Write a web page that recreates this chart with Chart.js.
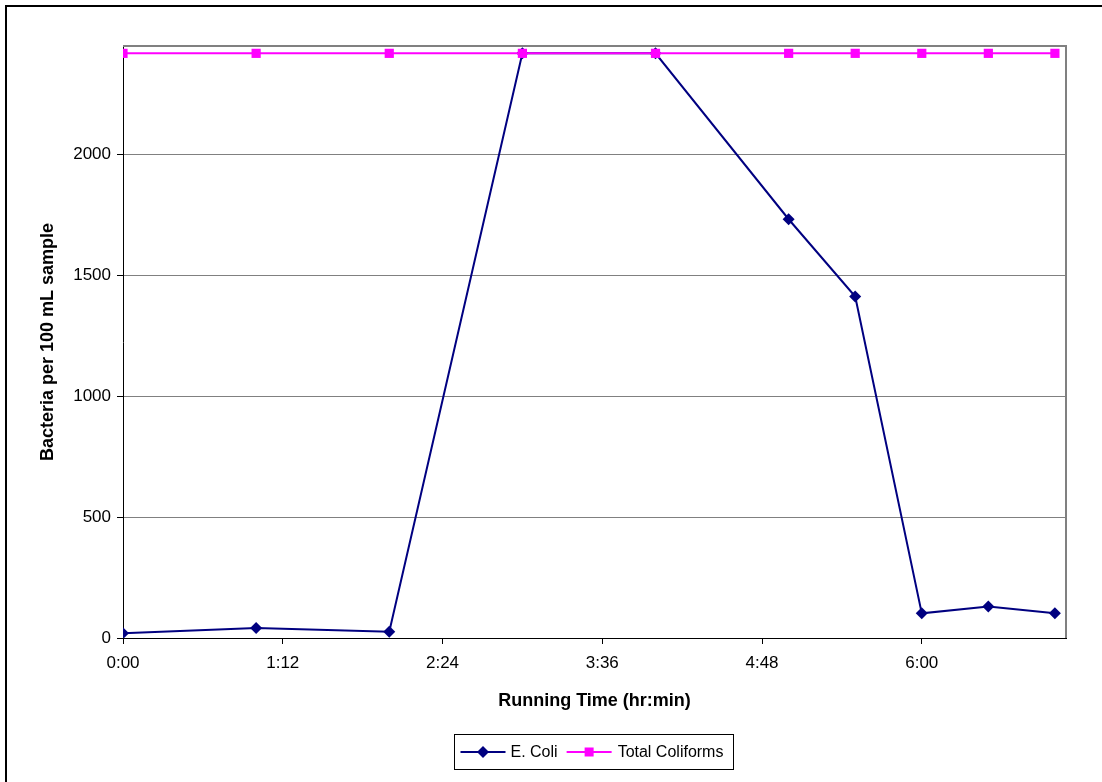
<!DOCTYPE html>
<html>
<head>
<meta charset="utf-8">
<script src="https://cdn.jsdelivr.net/npm/chart.js@4"></script>
<style>
  html, body { margin: 0; padding: 0; background: #fff; overflow: hidden; }
  #wrap { position: relative; width: 1102px; height: 782px; }
</style>
</head>
<body>
<div id="wrap"><canvas id="chart" width="1102" height="782"></canvas></div>
<script>
// Running time of each sample, in minutes from the start
const timeMinutes = [0, 60, 120, 180, 240, 300, 330, 360, 390, 420];
// Bacteria per 100 mL sample
const eColi = [20, 41, 26, 2419.6, 2419.6, 1733, 1413, 102, 130, 102];
const totalColiforms = [2419.6, 2419.6, 2419.6, 2419.6, 2419.6, 2419.6, 2419.6, 2419.6, 2419.6, 2419.6];
const seriesNames = ['E. Coli', 'Total Coliforms'];
// axis ticks (x in minutes, shown as h:mm)
const xTicks = [0, 72, 144, 216, 288, 360];
const yTicks = [0, 500, 1000, 1500, 2000];

const FONT = "'Liberation Sans', Arial, sans-serif";
const NAVY = '#000080';
const MAGENTA = '#FF00FF';

function toPoints(values) {
  return timeMinutes.map((t, i) => ({ x: t, y: values[i] }));
}

function fmtTime(min) {
  const h = Math.floor(min / 60);
  const m = Math.round(min % 60);
  return h + ':' + (m < 10 ? '0' : '') + m;
}

// outer frame (only top and left edges are visible) + grey plot border
const framePlugin = {
  id: 'frame',
  beforeDraw(chart) {
    const ctx = chart.ctx;
    ctx.save();
    ctx.fillStyle = '#fff';
    ctx.fillRect(0, 0, chart.width, chart.height);
    ctx.fillStyle = '#000';
    ctx.fillRect(5, 5, chart.width, 2);
    ctx.fillRect(5, 5, 2, chart.height);
    ctx.restore();
  },
  beforeDatasetsDraw(chart) {
    const { ctx, chartArea: a } = chart;
    ctx.save();
    ctx.strokeStyle = '#808080';
    ctx.lineWidth = 2;
    ctx.beginPath();
    ctx.moveTo(a.left, a.top);
    ctx.lineTo(a.right, a.top);
    ctx.lineTo(a.right, a.bottom);
    ctx.stroke();
    ctx.restore();
  }
};

// Excel style legend: line + marker, boxed, centred under the plot
const legendPlugin = {
  id: 'boxLegend',
  afterDraw(chart) {
    const { ctx, chartArea: a } = chart;
    ctx.save();
    ctx.font = '16px ' + FONT;
    const w1 = ctx.measureText(seriesNames[0]).width;
    const w2 = ctx.measureText(seriesNames[1]).width;
    const seg = 45;
    const boxW = 6 + seg + 5 + w1 + 9 + seg + 6 + w2 + 10;
    const boxH = 35;
    const cx = (a.left + a.right) / 2 - 1.5;
    const left = Math.round(cx - boxW / 2) + 0.5;
    const top = chart.height - 47.5;
    ctx.strokeStyle = '#000';
    ctx.lineWidth = 1;
    ctx.strokeRect(left, top, Math.round(boxW), boxH);
    const cy = top + boxH / 2;

    let x = left + 6;
    ctx.strokeStyle = NAVY;
    ctx.lineWidth = 2;
    ctx.beginPath(); ctx.moveTo(x, cy); ctx.lineTo(x + seg, cy); ctx.stroke();
    ctx.fillStyle = NAVY;
    const mx = x + seg / 2;
    ctx.beginPath();
    ctx.moveTo(mx - 6, cy); ctx.lineTo(mx, cy - 6); ctx.lineTo(mx + 6, cy); ctx.lineTo(mx, cy + 6);
    ctx.closePath(); ctx.fill();
    x += seg + 5;
    ctx.fillStyle = '#000';
    ctx.textBaseline = 'middle';
    ctx.fillText(seriesNames[0], x, cy + 1);
    x += w1 + 9;

    ctx.strokeStyle = MAGENTA;
    ctx.beginPath(); ctx.moveTo(x, cy); ctx.lineTo(x + seg, cy); ctx.stroke();
    ctx.fillStyle = MAGENTA;
    ctx.fillRect(x + seg / 2 - 4.5, cy - 4.5, 9, 9);
    x += seg + 6;
    ctx.fillStyle = '#000';
    ctx.fillText(seriesNames[1], x, cy + 1);
    ctx.restore();
  }
};

new Chart(document.getElementById('chart'), {
  type: 'scatter',
  data: {
    datasets: [
      {
        label: seriesNames[0],
        data: toPoints(eColi),
        showLine: true,
        borderColor: NAVY,
        backgroundColor: NAVY,
        borderWidth: 2,
        pointStyle: 'rectRot',
        pointRadius: 6,
        pointBorderWidth: 0,
        order: 1
      },
      {
        label: seriesNames[1],
        data: toPoints(totalColiforms),
        showLine: true,
        borderColor: MAGENTA,
        backgroundColor: MAGENTA,
        borderWidth: 2,
        pointStyle: 'rect',
        pointRadius: 6.5,
        pointBorderWidth: 0,
        order: 0
      }
    ]
  },
  options: {
    responsive: false,
    animation: false,
    layout: { padding: { left: 33, top: 46, right: 36, bottom: 66 } },
    plugins: {
      legend: { display: false },
      tooltip: { enabled: false }
    },
    scales: {
      x: {
        type: 'linear',
        min: 0,
        max: 425,
        border: { color: '#000', width: 1 },
        grid: {
          drawOnChartArea: false,
          color: '#000',
          tickLength: 6
        },
        ticks: {
          padding: 9,
          color: '#000',
          font: { family: FONT, size: 17 },
          maxRotation: 0,
          autoSkip: false,
          callback: (v) => fmtTime(v)
        },
        afterBuildTicks: (s) => { s.ticks = xTicks.map(v => ({ value: v })); },
        title: {
          display: true,
          text: 'Running Time (hr:min)',
          color: '#000',
          font: { family: FONT, size: 18, weight: 'bold' },
          padding: { top: 4, bottom: 4 }
        },
        afterFit: (s) => { s.height = 78; }
      },
      y: {
        min: 0,
        max: 2450,
        border: { color: '#000', width: 1 },
        grid: {
          color: (c) => (c.tick && c.tick.value === 0 ? 'rgba(0,0,0,0)' : '#808080'),
          tickColor: '#000',
          tickLength: 6
        },
        ticks: {
          padding: 6,
          color: '#000',
          font: { family: FONT, size: 17 },
          callback: (v) => String(v)
        },
        afterBuildTicks: (s) => { s.ticks = yTicks.map(v => ({ value: v })); },
        title: {
          display: true,
          text: 'Bacteria per 100 mL sample',
          color: '#000',
          font: { family: FONT, size: 18, weight: 'bold' },
          padding: { top: 4, bottom: 4 }
        },
        afterFit: (s) => { s.width = 90; }
      }
    }
  },
  plugins: [framePlugin, legendPlugin]
});
</script>
</body>
</html>
